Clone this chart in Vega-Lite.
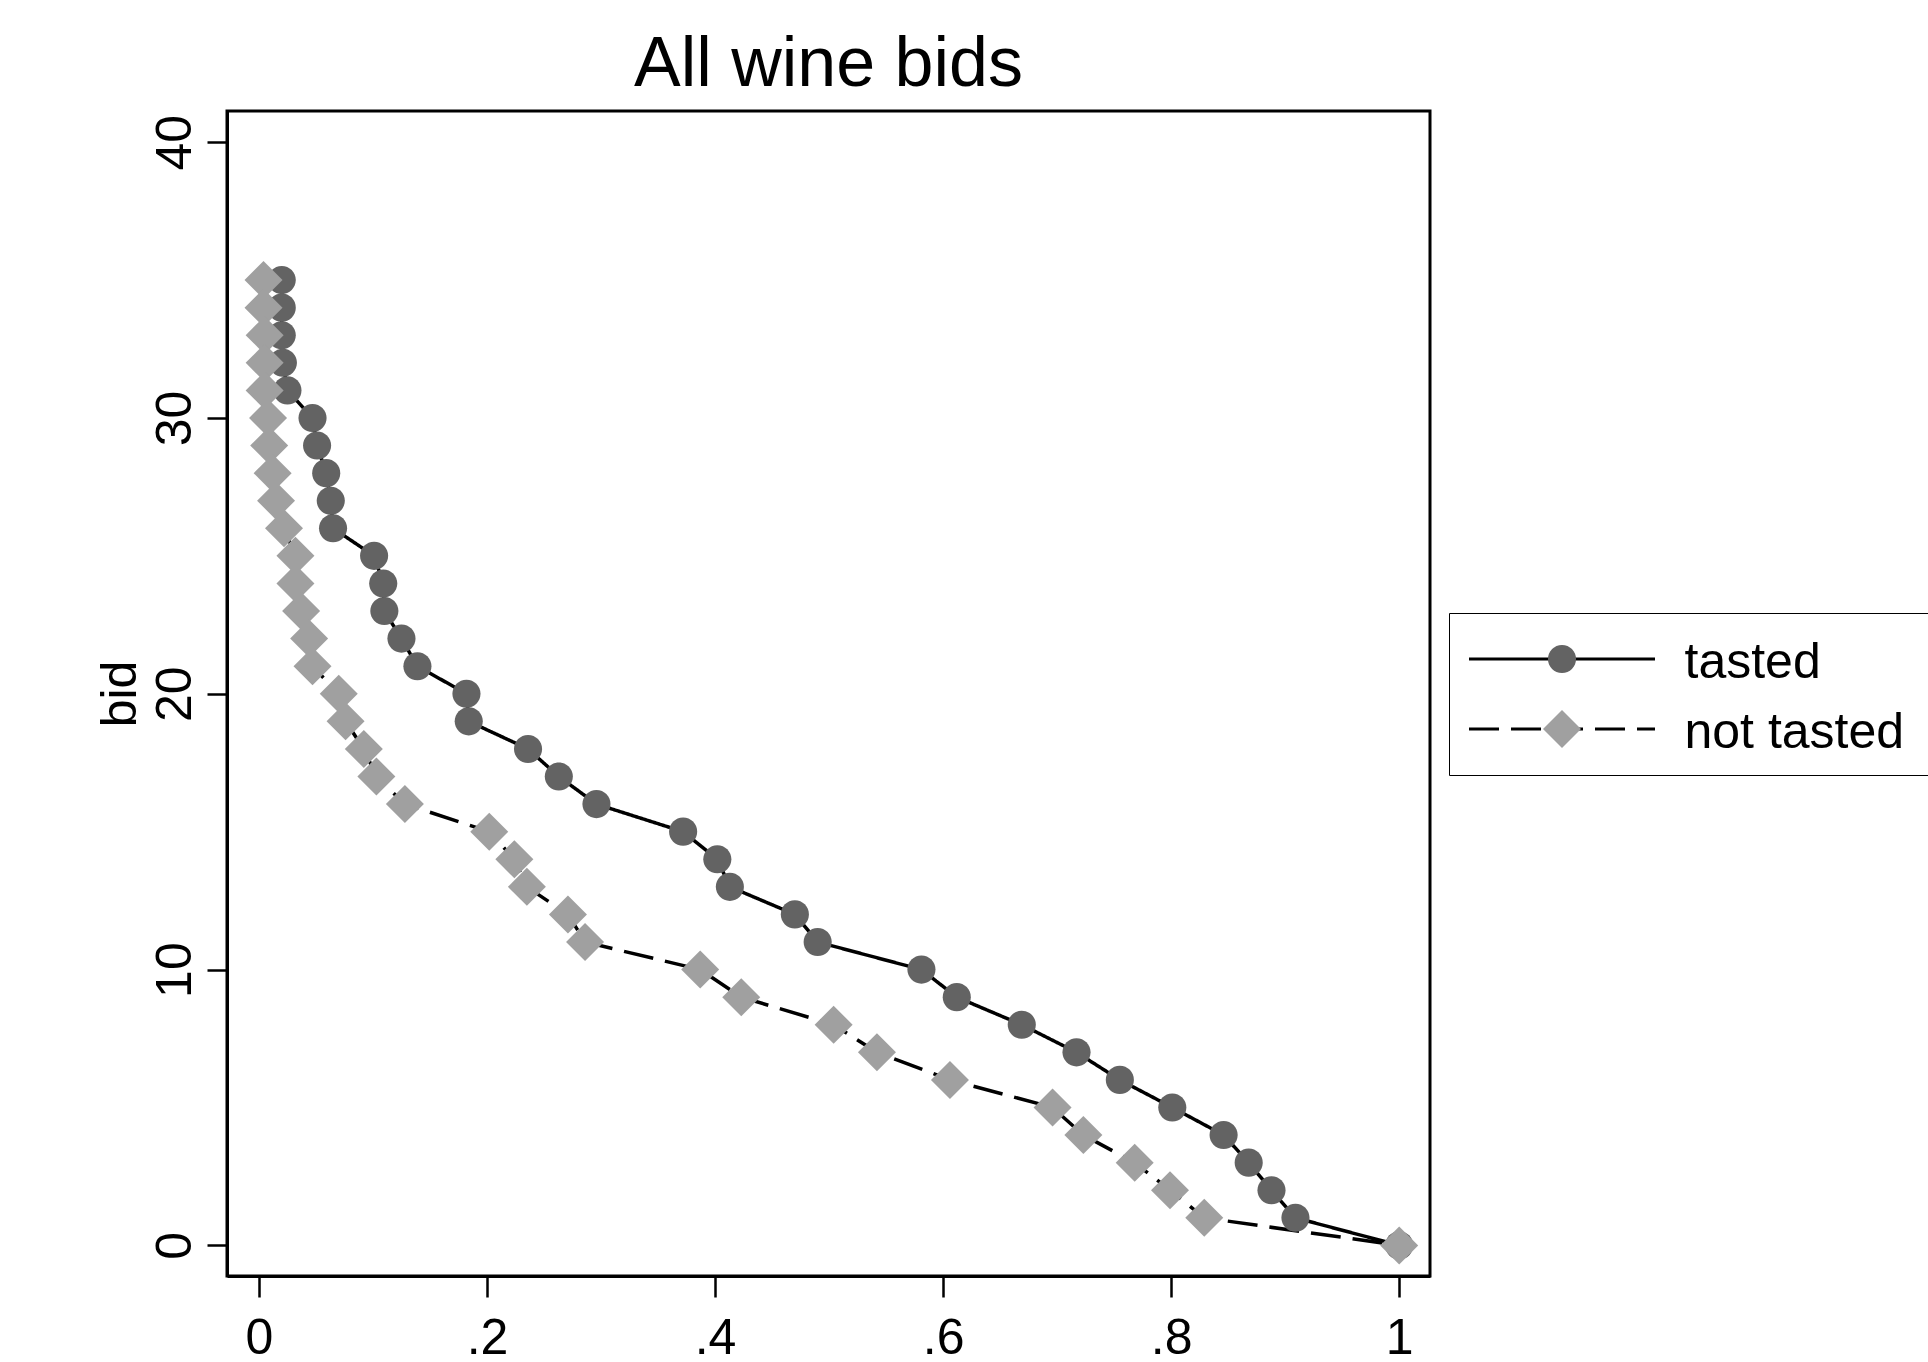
{
  "$schema": "https://vega.github.io/schema/vega-lite/v6.json",
  "width": 1203,
  "height": 1165,
  "autosize": {"type": "none"},
  "padding": {"left": 227, "top": 111, "right": 498, "bottom": 86},
  "background": "white",
  "title": {"text": "All wine bids", "fontSize": 70, "font": "Liberation Sans", "fontWeight": "normal", "color": "black", "anchor": "middle", "frame": "group", "baseline": "alphabetic", "offset": -45},
  "config": {"view": {"stroke": "black", "strokeWidth": 3}, "font": "Liberation Sans"},
  "data": {"values": [
    {"group": "tasted", "bid": 35, "share": 0.020},
    {"group": "tasted", "bid": 34, "share": 0.020},
    {"group": "tasted", "bid": 33, "share": 0.020},
    {"group": "tasted", "bid": 32, "share": 0.021},
    {"group": "tasted", "bid": 31, "share": 0.025},
    {"group": "tasted", "bid": 30, "share": 0.047},
    {"group": "tasted", "bid": 29, "share": 0.051},
    {"group": "tasted", "bid": 28, "share": 0.059},
    {"group": "tasted", "bid": 27, "share": 0.063},
    {"group": "tasted", "bid": 26, "share": 0.065},
    {"group": "tasted", "bid": 25, "share": 0.101},
    {"group": "tasted", "bid": 24, "share": 0.109},
    {"group": "tasted", "bid": 23, "share": 0.110},
    {"group": "tasted", "bid": 22, "share": 0.125},
    {"group": "tasted", "bid": 21, "share": 0.139},
    {"group": "tasted", "bid": 20, "share": 0.182},
    {"group": "tasted", "bid": 19, "share": 0.184},
    {"group": "tasted", "bid": 18, "share": 0.236},
    {"group": "tasted", "bid": 17, "share": 0.263},
    {"group": "tasted", "bid": 16, "share": 0.296},
    {"group": "tasted", "bid": 15, "share": 0.372},
    {"group": "tasted", "bid": 14, "share": 0.402},
    {"group": "tasted", "bid": 13, "share": 0.413},
    {"group": "tasted", "bid": 12, "share": 0.470},
    {"group": "tasted", "bid": 11, "share": 0.490},
    {"group": "tasted", "bid": 10, "share": 0.581},
    {"group": "tasted", "bid": 9, "share": 0.612},
    {"group": "tasted", "bid": 8, "share": 0.669},
    {"group": "tasted", "bid": 7, "share": 0.717},
    {"group": "tasted", "bid": 6, "share": 0.755},
    {"group": "tasted", "bid": 5, "share": 0.801},
    {"group": "tasted", "bid": 4, "share": 0.846},
    {"group": "tasted", "bid": 3, "share": 0.868},
    {"group": "tasted", "bid": 2, "share": 0.888},
    {"group": "tasted", "bid": 1, "share": 0.909},
    {"group": "tasted", "bid": 0, "share": 1.000},
    {"group": "not tasted", "bid": 35, "share": 0.004},
    {"group": "not tasted", "bid": 34, "share": 0.004},
    {"group": "not tasted", "bid": 33, "share": 0.005},
    {"group": "not tasted", "bid": 32, "share": 0.005},
    {"group": "not tasted", "bid": 31, "share": 0.005},
    {"group": "not tasted", "bid": 30, "share": 0.008},
    {"group": "not tasted", "bid": 29, "share": 0.009},
    {"group": "not tasted", "bid": 28, "share": 0.012},
    {"group": "not tasted", "bid": 27, "share": 0.015},
    {"group": "not tasted", "bid": 26, "share": 0.022},
    {"group": "not tasted", "bid": 25, "share": 0.032},
    {"group": "not tasted", "bid": 24, "share": 0.032},
    {"group": "not tasted", "bid": 23, "share": 0.037},
    {"group": "not tasted", "bid": 22, "share": 0.044},
    {"group": "not tasted", "bid": 21, "share": 0.047},
    {"group": "not tasted", "bid": 20, "share": 0.070},
    {"group": "not tasted", "bid": 19, "share": 0.076},
    {"group": "not tasted", "bid": 18, "share": 0.092},
    {"group": "not tasted", "bid": 17, "share": 0.103},
    {"group": "not tasted", "bid": 16, "share": 0.128},
    {"group": "not tasted", "bid": 15, "share": 0.202},
    {"group": "not tasted", "bid": 14, "share": 0.224},
    {"group": "not tasted", "bid": 13, "share": 0.235},
    {"group": "not tasted", "bid": 12, "share": 0.271},
    {"group": "not tasted", "bid": 11, "share": 0.286},
    {"group": "not tasted", "bid": 10, "share": 0.387},
    {"group": "not tasted", "bid": 9, "share": 0.423},
    {"group": "not tasted", "bid": 8, "share": 0.504},
    {"group": "not tasted", "bid": 7, "share": 0.542},
    {"group": "not tasted", "bid": 6, "share": 0.606},
    {"group": "not tasted", "bid": 5, "share": 0.696},
    {"group": "not tasted", "bid": 4, "share": 0.723},
    {"group": "not tasted", "bid": 3, "share": 0.768},
    {"group": "not tasted", "bid": 2, "share": 0.799},
    {"group": "not tasted", "bid": 1, "share": 0.829},
    {"group": "not tasted", "bid": 0, "share": 1.000}
  ]},
  "encoding": {
    "x": {
      "field": "share", "type": "quantitative",
      "scale": {"domain": [-0.028, 1.027], "nice": false, "zero": false},
      "axis": {
        "values": [0, 0.2, 0.4, 0.6, 0.8, 1],
        "labelExpr": "datum.value == 0 ? '0' : datum.value == 1 ? '1' : replace(format(datum.value, '.1f'), '0.', '.')",
        "title": null, "grid": false,
        "domain": true, "domainColor": "black", "domainWidth": 3,
        "ticks": true, "tickSize": 21, "tickWidth": 2.5, "tickColor": "black",
        "labelFontSize": 50, "labelFont": "Liberation Sans", "labelColor": "black",
        "labelBaseline": "alphabetic", "labelAlign": "center", "labelPadding": 56,
        "labelFlush": false, "labelOverlap": false
      }
    },
    "y": {
      "field": "bid", "type": "quantitative",
      "scale": {"domain": [-1.11, 41.13], "nice": false, "zero": false},
      "axis": {
        "values": [0, 10, 20, 30, 40],
        "title": "bid", "titleFontSize": 50, "titleFont": "Liberation Sans", "titleFontWeight": "normal", "titleColor": "black",
        "titleAngle": 270, "titleAlign": "center", "titleBaseline": "alphabetic", "titleX": -92, "titleY": 582.5,
        "grid": false,
        "domain": true, "domainColor": "black", "domainWidth": 3,
        "ticks": true, "tickSize": 20, "tickWidth": 2.5, "tickColor": "black",
        "labelFontSize": 50, "labelFont": "Liberation Sans", "labelColor": "black",
        "labelAngle": 270, "labelAlign": "center", "labelBaseline": "alphabetic", "labelPadding": 16.7,
        "labelFlush": false, "labelOverlap": false
      }
    }
  },
  "layer": [
    {
      "mark": {"type": "line", "color": "black", "strokeWidth": 3.5},
      "encoding": {
        "strokeDash": {
          "field": "group", "type": "nominal", "sort": ["tasted", "not tasted"],
          "scale": {"range": [[1, 0], [30, 12]]},
          "legend": {
            "orient": "none", "legendX": 1222, "legendY": 502,
            "title": " ", "titleOrient": "right", "titlePadding": 14, "titleFontSize": 10,
            "symbolType": "M-1,0H1", "symbolSize": 34596, "symbolStrokeWidth": 3, "symbolStrokeColor": "black",
            "symbolOffset": 7.5, "labelOffset": 28, "labelFontSize": 50, "labelFont": "Liberation Sans",
            "labelColor": "black", "labelLimit": 600, "padding": 11, "clipHeight": 70, "rowPadding": 0,
            "strokeColor": "black", "fillColor": "white", "zindex": 1,
            "encode": {"labels": {"update": {"dy": {"value": 4}}}}
          }
        },
        "order": {"field": "bid", "sort": "descending"}
      }
    },
    {
      "transform": [{"filter": {"field": "group", "equal": "tasted"}}],
      "mark": {"type": "point", "filled": true, "size": 1444, "opacity": 1, "strokeWidth": 0},
      "encoding": {
        "shape": {
          "field": "group", "type": "nominal", "sort": "descending",
          "scale": {"range": ["M-0.74,0A0.74,0.74 0 1,0 0.74,0A0.74,0.74 0 1,0 -0.74,0Z", "diamond"]},
          "legend": {
            "orient": "none", "legendX": 1304, "legendY": 502, "title": null,
            "labelExpr": "''", "labelFontSize": 40, "symbolSize": 1444, "symbolStrokeWidth": 0,
            "symbolOffset": 0, "padding": 11, "clipHeight": 70, "rowPadding": 0, "zindex": 2
          }
        },
        "color": {
          "field": "group", "type": "nominal", "sort": "descending",
          "scale": {"range": ["#636363", "#a0a0a0"]},
          "legend": {
            "orient": "none", "legendX": 1304, "legendY": 502, "title": null,
            "labelExpr": "''", "labelFontSize": 40, "symbolSize": 1444, "symbolStrokeWidth": 0,
            "symbolOffset": 0, "padding": 11, "clipHeight": 70, "rowPadding": 0, "zindex": 2
          }
        }
      }
    },
    {
      "transform": [{"filter": {"field": "group", "equal": "not tasted"}}],
      "mark": {"type": "point", "filled": true, "size": 1444, "opacity": 1, "strokeWidth": 0},
      "encoding": {
        "shape": {"field": "group", "type": "nominal", "sort": "descending"},
        "color": {"field": "group", "type": "nominal", "sort": "descending"}
      }
    }
  ]
}
